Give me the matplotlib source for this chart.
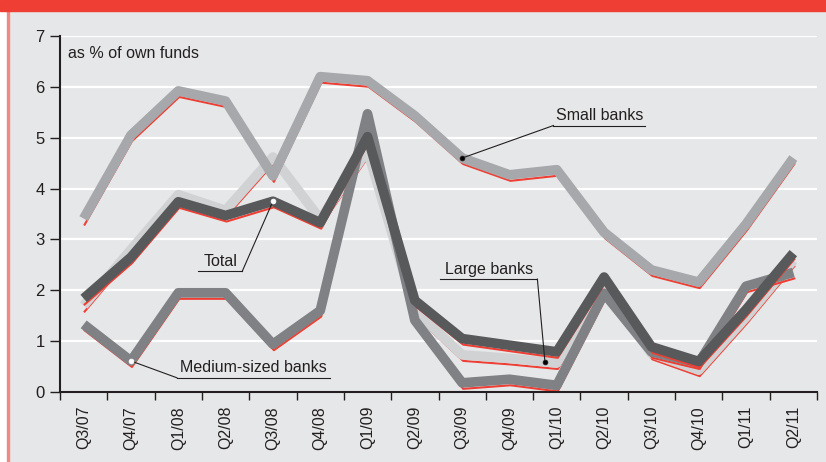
import numpy as np
import matplotlib
matplotlib.use('Agg')
import matplotlib.pyplot as plt
from matplotlib import transforms
from matplotlib.patches import Rectangle

plt.rcParams['font.family'] = ['Liberation Sans', 'DejaVu Sans']

quarters = ['Q3/07', 'Q4/07', 'Q1/08', 'Q2/08', 'Q3/08', 'Q4/08', 'Q1/09', 'Q2/09',
            'Q3/09', 'Q4/09', 'Q1/10', 'Q2/10', 'Q3/10', 'Q4/10', 'Q1/11', 'Q2/11']
small = [3.41, 5.05, 5.92, 5.72, 4.25, 6.2, 6.12, 5.43, 4.6, 4.27, 4.37, 3.14, 2.4, 2.16, 3.3, 4.6]
large = [1.7, 2.8, 3.88, 3.57, 4.62, 3.4, 4.75, 1.6, 0.73, 0.66, 0.57, 2.04, 0.76, 0.43, 1.47, 2.59]
medium = [1.33, 0.61, 1.95, 1.95, 0.94, 1.6, 5.47, 1.41, 0.18, 0.25, 0.13, 1.94, 0.79, 0.57, 2.08, 2.35]
total = [1.84, 2.65, 3.74, 3.47, 3.75, 3.33, 5.02, 1.8, 1.05, 0.92, 0.79, 2.26, 0.89, 0.6, 1.62, 2.73]

W, H = 826, 462
fig = plt.figure(figsize=(W / 100, H / 100), dpi=100)
fig.patch.set_facecolor('#E6E7E8')

# frame: white margin, thin red left rule, red title bar
fig.patches.append(Rectangle((0, 0), 7 / W, 1, transform=fig.transFigure, color='white', zorder=0))
fig.patches.append(Rectangle((7 / W, 0), 1.5 / W, 1, transform=fig.transFigure, color='#F08A80', zorder=0))
fig.patches.append(Rectangle((0, 1 - 11 / H), 1, 11 / H, transform=fig.transFigure, color='#EF3E33', zorder=1))

ax = fig.add_axes([60 / W, 1 - 392 / H, 757 / W, 356 / H])
ax.set_facecolor('none')
x = np.arange(len(quarters))
ax.set_xlim(-0.5, len(quarters) - 0.5)
ax.set_ylim(0, 7)

for v in range(1, 8):
    ax.axhline(v, color='white', lw=1.6, zorder=1)

shadow = transforms.offset_copy(ax.transData, fig=fig, x=1, y=-6, units='dots')
series = [(large, '#D1D2D4'), (small, '#A7A8AB'), (medium, '#808184'), (total, '#58595B')]
z = 2
for vals, col in series:
    ax.plot(x, vals, color='#EF3E33', lw=1.5, transform=shadow, zorder=z,
            solid_joinstyle='round')
    ax.plot(x, vals, color=col, lw=7, zorder=z + 1, solid_joinstyle='round',
            solid_capstyle='butt')
    z += 2

# callouts
def callout(px, py, corner, x0, x1, text, dot):
    ax.plot([px, corner[0]], [py, corner[1]], color='#231F20', lw=0.8, zorder=20)
    ax.plot([x0, x1], [corner[1], corner[1]], color='#231F20', lw=0.8, zorder=20)
    ax.text((x0 + x1) / 2, corner[1] + 0.05, text, ha='center', va='bottom',
            fontsize=11.5, color='#231F20', zorder=20)
    ax.plot(px, py, 'o', ms=3.5, mfc=dot, mec='#231F20' if dot == 'black' else dot,
            mew=0.5, zorder=21)

callout(8, small[8], (9.93, 5.24), 9.93, 11.87, 'Small banks', 'black')
callout(4, total[4], (3.35, 2.37), 2.42, 3.35, 'Total', 'white')
callout(9.75, large[9] + (large[10] - large[9]) * 0.75, (9.59, 2.22), 7.53, 9.59,
        'Large banks', 'black')
callout(1, medium[1], (1.97, 0.28), 1.97, 5.2, 'Medium-sized banks', 'white')

ax.text(0.01, 6.65, 'as % of own funds', fontsize=11.5, color='#231F20', va='center',
        transform=transforms.blended_transform_factory(ax.transAxes, ax.transData))

for s in ['top', 'right']:
    ax.spines[s].set_visible(False)
for s in ['left', 'bottom']:
    ax.spines[s].set_color('#231F20')
    ax.spines[s].set_linewidth(1.5)
    ax.spines[s].set_zorder(15)

ax.set_yticks(range(8))
ax.tick_params(axis='y', length=7, width=1, color='#231F20', labelsize=12,
               labelcolor='#231F20', pad=4)
ax.set_xticks(x)
ax.set_xticklabels(quarters, rotation=90, fontsize=11.5, color='#231F20')
ax.tick_params(axis='x', which='major', length=0, pad=10)
ax.set_xticks(np.arange(-0.5, len(quarters)), minor=True)
ax.tick_params(axis='x', which='minor', length=6, width=1, color='#231F20')

fig.savefig('out.png', dpi=100, facecolor=fig.get_facecolor())
